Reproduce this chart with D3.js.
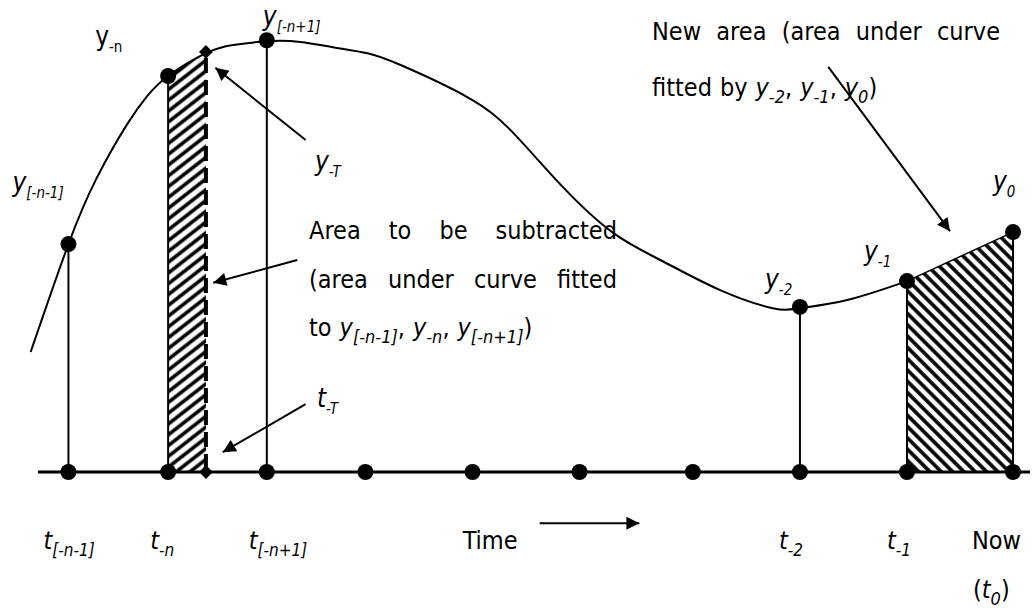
<!DOCTYPE html>
<meta charset="utf-8">
<style>
  body { margin: 0; background: #fff; }
  svg text { font-family: "DejaVu Sans Condensed", "DejaVu Sans", sans-serif; font-stretch: condensed; fill: #000; white-space: pre; }
</style>
<svg width="1035" height="608"></svg>
<script src="https://cdnjs.cloudflare.com/ajax/libs/d3/7.8.5/d3.min.js"></script>
<script>
// sample times along the time axis (dots on the axis)
var axisTimes = [-9, -8.05, -7.11, -6.17, -5.15, -4.13, -3.05, -2.03, -1.01, 0];
// observed points with a drop line to the axis
var obsTimes  = [-9, -8.05, -7.11, -2.03, -1.01, 0];
var obsValues = [53, 92.1, 100.4, 38.4, 44.4, 55.8];
// interpolated point t-T / y-T
var tT = -7.69, yT = 97.7;
// the fitted curve
var curveTimes  = [-9.36, -9.0, -8.73, -8.44, -8.25, -8.05, -7.69, -7.43, -7.09, -6.79, -6.48, -6.15, -5.84, -5.2, -4.76, -4.29, -3.81, -3.36, -2.79, -2.29, -2.03, -1.58, -1.01];
var curveValues = [27.9, 53, 68.4, 80.9, 87.4, 92.1, 97.4, 99.3, 100.2, 100, 98.8, 97.4, 94.7, 87.2, 78.8, 66.3, 55.6, 49.3, 42.3, 38.1, 38.1, 40, 44.4];
var axisExtent = [-9.29, 0.162];

var svg = d3.select("svg");

var x = d3.scaleLinear().domain(axisExtent).range([38, 1030]);
var y = d3.scaleLinear().domain([0, 100]).range([472, 42]);

var defs = svg.append("defs");
defs.append("pattern")
    .attr("id", "hatchL")
    .attr("patternUnits", "userSpaceOnUse")
    .attr("width", 8.5).attr("height", 8.5)
    .attr("patternTransform", "rotate(-38)")
  .append("line")
    .attr("x1", 0).attr("y1", 4.25).attr("x2", 8.5).attr("y2", 4.25)
    .attr("stroke", "#000").attr("stroke-width", 3.6);
defs.append("pattern")
    .attr("id", "hatchR")
    .attr("patternUnits", "userSpaceOnUse")
    .attr("width", 8).attr("height", 8)
    .attr("patternTransform", "rotate(45)")
  .append("line")
    .attr("x1", 0).attr("y1", 4).attr("x2", 8).attr("y2", 4)
    .attr("stroke", "#000").attr("stroke-width", 3.6);
defs.append("marker")
    .attr("id", "arrow")
    .attr("viewBox", "0 0 10 10")
    .attr("refX", 10).attr("refY", 5)
    .attr("markerUnits", "userSpaceOnUse")
    .attr("markerWidth", 17).attr("markerHeight", 13)
    .attr("orient", "auto")
  .append("path")
    .attr("d", "M0,0L10,5L0,10z")
    .attr("fill", "#000");

var area = d3.area()
    .x(function(d) { return x(d[0]); })
    .y0(y(0))
    .y1(function(d) { return y(d[1]); });

// area to be subtracted
svg.append("path")
    .datum([[obsTimes[1], obsValues[1]], [tT, yT]])
    .attr("fill", "url(#hatchL)")
    .attr("d", area);

// new area
svg.append("path")
    .datum([[obsTimes[4], obsValues[4]], [obsTimes[5], obsValues[5]]])
    .attr("fill", "url(#hatchR)")
    .attr("d", area);

// drop lines
svg.selectAll(".drop")
  .data(obsTimes)
  .enter().append("line")
    .attr("x1", function(d) { return x(d); })
    .attr("x2", function(d) { return x(d); })
    .attr("y1", function(d, i) { return y(obsValues[i]); })
    .attr("y2", y(0))
    .attr("stroke", "#000").attr("stroke-width", 2);

svg.append("line")
    .attr("x1", x(tT)).attr("x2", x(tT))
    .attr("y1", y(yT) + 6).attr("y2", y(0))
    .attr("stroke", "#000").attr("stroke-width", 4)
    .attr("stroke-dasharray", "15,7");

var line = d3.line()
    .x(function(d) { return x(d[0]); })
    .y(function(d) { return y(d[1]); })
    .curve(d3.curveNatural);

svg.append("path")
    .datum(curveTimes.map(function(t, i) { return [t, curveValues[i]]; }))
    .attr("fill", "none")
    .attr("stroke", "#000").attr("stroke-width", 2)
    .attr("d", line);

svg.append("line")
    .attr("x1", x(obsTimes[4])).attr("y1", y(obsValues[4]))
    .attr("x2", x(obsTimes[5])).attr("y2", y(obsValues[5]))
    .attr("stroke", "#000").attr("stroke-width", 1.5);

// time axis
svg.append("line")
    .attr("x1", x.range()[0]).attr("x2", x.range()[1])
    .attr("y1", y(0)).attr("y2", y(0))
    .attr("stroke", "#000").attr("stroke-width", 3);

svg.selectAll(".tick-dot")
  .data(axisTimes)
  .enter().append("circle")
    .attr("cx", function(d) { return x(d); })
    .attr("cy", y(0))
    .attr("r", 8);

svg.selectAll(".obs-dot")
  .data(obsTimes)
  .enter().append("circle")
    .attr("cx", function(d) { return x(d); })
    .attr("cy", function(d, i) { return y(obsValues[i]); })
    .attr("r", 8);

var diamond = d3.symbol(d3.symbolSquare, 95);
[[tT, yT], [tT, 0]].forEach(function(p) {
  svg.append("path")
      .attr("d", diamond)
      .attr("transform", "translate(" + x(p[0]) + "," + y(p[1]) + ") rotate(45)");
});

// arrows, ends given in chart units
function arrow(t0, v0, t1, v1) {
  svg.append("line")
      .attr("x1", x(t0)).attr("y1", y(v0))
      .attr("x2", x(t1)).attr("y2", y(v1))
      .attr("stroke", "#000").attr("stroke-width", 2)
      .attr("marker-end", "url(#arrow)");
}
arrow(-6.74, 77.2, -7.6, 94);
arrow(-6.82, 49.3, -7.62, 44);
arrow(-6.74, 15.8, -7.53, 4.6);
arrow(-1.76, 94.2, -0.6, 56);
arrow(-4.51, -11.9, -3.56, -11.9);

// text with italic parts and subscripts
function rich(parent, px, py, parts, size, sub) {
  var t = parent.append("text").attr("x", px).attr("y", py).style("font-size", size + "px");
  var down = false, shift = size * 0.26;
  parts.forEach(function(p) {
    var s = t.append("tspan").text(p[0]);
    var isSub = p[1] === "s" || p[1] === "su";
    if (isSub && !down) { s.attr("dy", shift); down = true; }
    else if (!isSub && down) { s.attr("dy", -shift); down = false; }
    if (isSub) s.style("font-size", sub + "px");
    if (p[1] === "i" || p[1] === "s") s.style("font-style", "italic");
  });
  return t;
}

function justify(x0, x1, py, words, last, size, sub) {
  var nodes = words.map(function(w) { return rich(svg, 0, py, w, size, sub); });
  var widths = nodes.map(function(n) { return n.node().getComputedTextLength(); });
  var total = d3.sum(widths);
  var gap = last ? size * 0.32 : (x1 - x0 - total) / (words.length - 1);
  var cx = x0;
  nodes.forEach(function(n, i) { n.attr("x", cx); cx += widths[i] + gap; });
}

var BODY = 25, BSUB = 18;
justify(309, 617, 239, [[["Area"]], [["to"]], [["be"]], [["subtracted"]]], false, BODY, BSUB);
justify(309, 617, 288, [[["(area"]], [["under"]], [["curve"]], [["fitted"]]], false, BODY, BSUB);
justify(309, 617, 336, [[["to"]], [["y", "i"], ["[-n-1]", "s"], [","]],
                        [["y", "i"], ["-n", "s"], [","]],
                        [["y", "i"], ["[-n+1]", "s"], [")"]]], true, BODY, BSUB);
justify(652, 1000, 40, [[["New"]], [["area"]], [["(area"]], [["under"]], [["curve"]]], false, BODY, BSUB);
justify(652, 1000, 96, [[["fitted"]], [["by"]], [["y", "i"], ["-2", "s"], [","]],
                        [["y", "i"], ["-1", "s"], [","]],
                        [["y", "i"], ["0", "s"], [")"]]], true, BODY, BSUB);

// point labels, placed relative to their points
var LBL = 26, LSUB = 15;
var px = obsTimes.map(function(t) { return x(t); });
var py = obsValues.map(function(v) { return y(v); });
rich(svg, px[0] - 56, py[0] - 53, [["y", "i"], ["[-n-1]", "s"]], LBL, LSUB);
rich(svg, px[1] - 73, py[1] - 31, [["y"], ["-n", "su"]], LBL, LSUB);
rich(svg, px[2] - 4, py[2] - 15, [["y", "i"], ["[-n+1]", "s"]], LBL, LSUB);
rich(svg, px[3] - 35, py[3] - 19, [["y", "i"], ["-2", "s"]], LBL, LSUB);
rich(svg, px[4] - 43, py[4] - 21, [["y", "i"], ["-1", "s"]], LBL, LSUB);
rich(svg, px[5] - 20, py[5] - 42, [["y", "i"], ["0", "s"]], LBL, LSUB);
rich(svg, x(tT) + 109, y(yT) + 118, [["y", "i"], ["-T", "s"]], LBL, LSUB);
rich(svg, x(tT) + 111, y(0) - 65, [["t", "i"], ["-T", "s"]], LBL, LSUB);

// time labels under the axis
var TL = 25, TSUB = 17;
var base = y(0) + 77;
rich(svg, px[0] - 25, base, [["t", "i"], ["[-n-1]", "s"]], TL, TSUB);
rich(svg, px[1] - 18, base, [["t", "i"], ["-n", "s"]], TL, TSUB);
rich(svg, px[2] - 18, base, [["t", "i"], ["[-n+1]", "s"]], TL, TSUB);
rich(svg, px[3] - 21, base, [["t", "i"], ["-2", "s"]], TL, TSUB);
rich(svg, px[4] - 20, base, [["t", "i"], ["-1", "s"]], TL, TSUB);
rich(svg, px[5] - 41, base, [["Now"]], BODY, BSUB);
rich(svg, px[5] - 40, base + 49, [["("], ["t", "i"], ["0", "s"], [")"]], BODY, BSUB);
rich(svg, x(-4.51) - 77, base, [["Time"]], BODY, BSUB);
</script>
